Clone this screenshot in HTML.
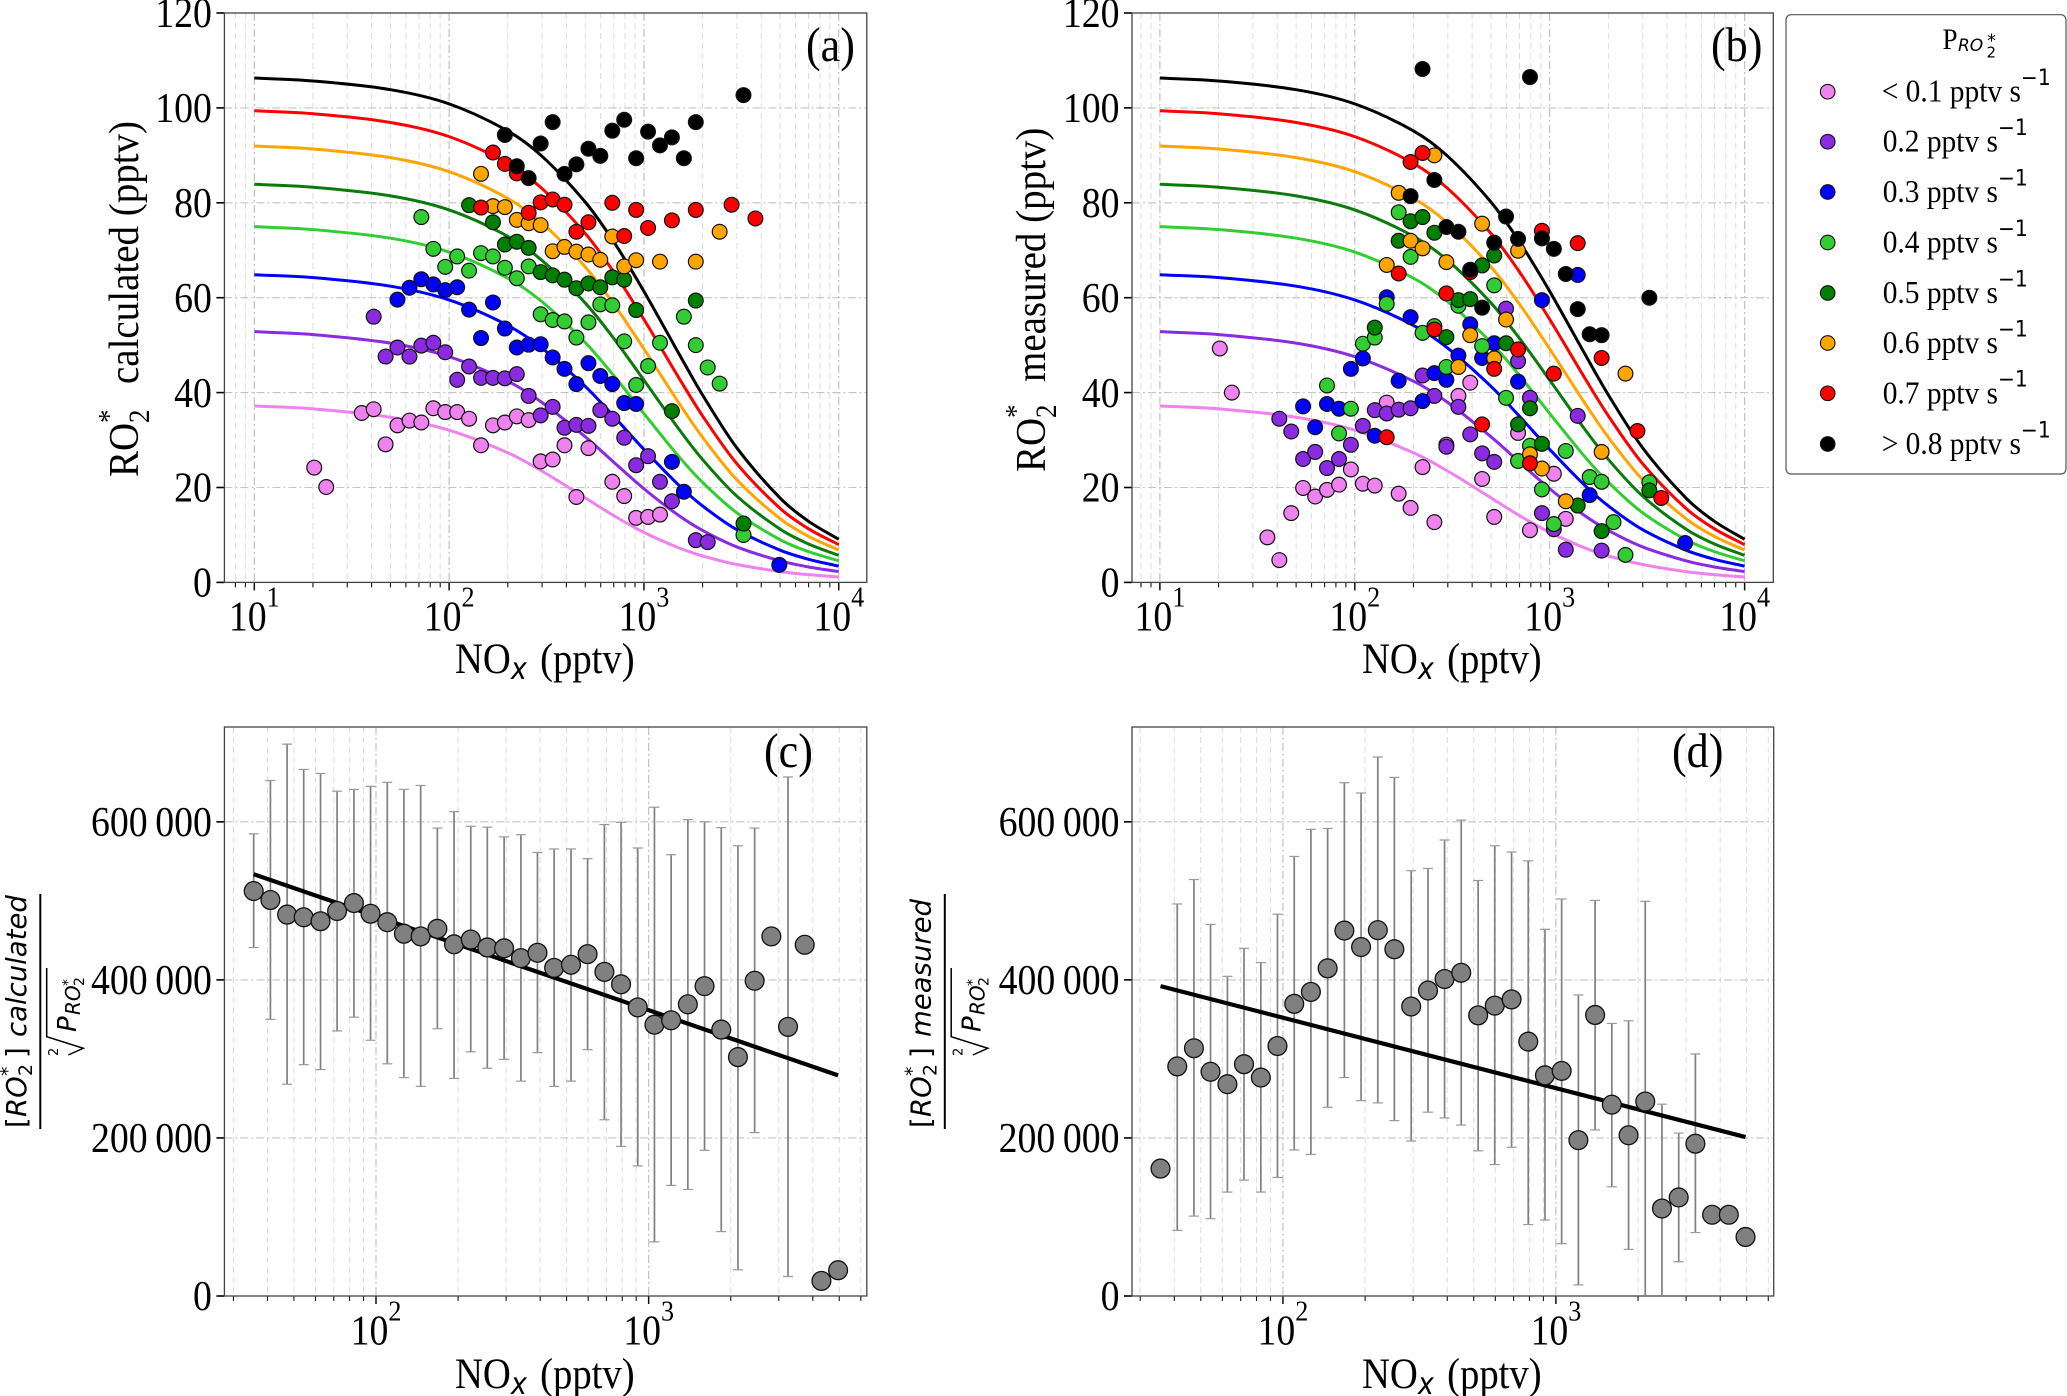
<!DOCTYPE html>
<html lang="en">
<head>
<meta charset="utf-8">
<title>RO2* versus NOx</title>
<style>
html,body{margin:0;padding:0;background:#fff}
svg{display:block}
text{font-family:"Liberation Serif",serif;fill:#000}
.mono{font-family:"DejaVu Sans",sans-serif;font-style:oblique}
.upright{font-family:"DejaVu Sans",sans-serif;font-style:normal}
</style>
</head>
<body>
<svg id="figure" xmlns="http://www.w3.org/2000/svg" width="2067" height="1396" viewBox="0 0 2067 1396">
<rect x="0" y="0" width="2067" height="1396" fill="#fff"/>
<defs>
<clipPath id="clip-a"><rect x="224.4" y="13" width="642.4" height="569.4"/></clipPath>
<clipPath id="clip-b"><rect x="1132" y="13" width="641.3" height="569.4"/></clipPath>
<clipPath id="clip-c"><rect x="224.4" y="727" width="642.4" height="569"/></clipPath>
<clipPath id="clip-d"><rect x="1132" y="727" width="641.7" height="569"/></clipPath>
</defs>
<g id="panel-a"></g>
<g id="panel-b"></g>
<g id="panel-c"></g>
<g id="panel-d"></g>

<text transform="translate(806,61) scale(.9,1)" font-size="49">(a)</text>
<text transform="translate(1711,61) scale(.9,1)" font-size="49">(b)</text>
<text transform="translate(764,767) scale(.9,1)" font-size="49">(c)</text>
<text transform="translate(1672,767) scale(.9,1)" font-size="49">(d)</text>

<g transform="translate(138,477) rotate(-90) scale(1,1.08)">
<text x="0" y="0" font-size="39">RO</text><text x="54" y="10" font-size="27">2</text><text x="54" y="-18" font-size="27">*</text><text x="93" y="0" font-size="39">calculated (pptv)</text>
</g>
<g transform="translate(1045,472) rotate(-90) scale(1,1.08)">
<text x="0" y="0" font-size="39">RO</text><text x="54" y="10" font-size="27">2</text><text x="54" y="-18" font-size="27">*</text><text x="90" y="0" font-size="39">measured (pptv)</text>
</g>

<text transform="translate(455,673) scale(.9,1)" font-size="43">NO<tspan class="mono" font-size="30" dy="6">x</tspan><tspan dy="-6" dx="4"> (pptv)</tspan></text>
<text transform="translate(1362,673) scale(.9,1)" font-size="43">NO<tspan class="mono" font-size="30" dy="6">x</tspan><tspan dy="-6" dx="4"> (pptv)</tspan></text>
<text transform="translate(455,1388) scale(.9,1)" font-size="43">NO<tspan class="mono" font-size="30" dy="6">x</tspan><tspan dy="-6" dx="4"> (pptv)</tspan></text>
<text transform="translate(1362,1388) scale(.9,1)" font-size="43">NO<tspan class="mono" font-size="30" dy="6">x</tspan><tspan dy="-6" dx="4"> (pptv)</tspan></text>

<g>
<g transform="translate(26,1128) rotate(-90)">
<text class="upright" x="0" y="0" font-size="27.5">[</text><text class="mono" x="11" y="0" font-size="27.5">RO</text><text class="upright" x="52" y="6" font-size="19">2</text><text class="upright" x="52" y="-12" font-size="19">*</text><text class="upright" x="70" y="0" font-size="27.5">]</text><text class="mono" x="91" y="0" font-size="27.5">calculated</text>
</g>
<line x1="40.3" y1="894" x2="40.3" y2="1129" stroke="#000" stroke-width="2"/>
<polyline points="46.7,968 46.7,1036.7 83.3,1048.3 68.3,1055" fill="none" stroke="#000" stroke-width="1.5"/>
<g transform="translate(58,1056) rotate(-90)"><text class="upright" x="0" y="0" font-size="13">2</text></g>
<g transform="translate(76,1032) rotate(-90)">
<text class="mono" x="0" y="0" font-size="26">P</text><text class="mono" x="17" y="4" font-size="20">RO</text><text class="upright" x="46" y="8" font-size="14">2</text><text class="upright" x="46" y="-3.5" font-size="14">*</text>
</g>
</g>
<g transform="translate(904.5,0)">
<g transform="translate(26,1128) rotate(-90)">
<text class="upright" x="0" y="0" font-size="27.5">[</text><text class="mono" x="11" y="0" font-size="27.5">RO</text><text class="upright" x="52" y="6" font-size="19">2</text><text class="upright" x="52" y="-12" font-size="19">*</text><text class="upright" x="70" y="0" font-size="27.5">]</text><text class="mono" x="91" y="0" font-size="27.5">measured</text>
</g>
<line x1="40.3" y1="894" x2="40.3" y2="1129" stroke="#000" stroke-width="2"/>
<polyline points="46.7,968 46.7,1036.7 83.3,1048.3 68.3,1055" fill="none" stroke="#000" stroke-width="1.5"/>
<g transform="translate(58,1056) rotate(-90)"><text class="upright" x="0" y="0" font-size="13">2</text></g>
<g transform="translate(76,1032) rotate(-90)">
<text class="mono" x="0" y="0" font-size="26">P</text><text class="mono" x="17" y="4" font-size="20">RO</text><text class="upright" x="46" y="8" font-size="14">2</text><text class="upright" x="46" y="-3.5" font-size="14">*</text>
</g>
</g>

<g>
<rect x="1786" y="14.7" width="280" height="459.3" rx="5" ry="5" fill="#fff" stroke="#555" stroke-width="1.2"/>
<g>
<text transform="translate(1942.5,49) scale(.9,1)" font-size="30">P</text>
<text class="mono" x="1958" y="51" font-size="17">RO</text>
<text class="upright" x="1986.5" y="57.3" font-size="15">2</text>
<text class="upright" x="1987" y="46.6" font-size="18">*</text>
</g>
<g><circle cx="1827.7" cy="91.7" r="7.3" fill="#ee82ee" stroke="#111" stroke-width="1.1"/><text transform="translate(1881.7,101.7) scale(.92,1)" font-size="32">&lt; 0.1 pptv s<tspan class="upright" font-size="22" dy="-16.7">−1</tspan></text></g>
<g><circle cx="1827.7" cy="141.7" r="7.3" fill="#8a2be2" stroke="#111" stroke-width="1.1"/><text transform="translate(1882.7,151.7) scale(.92,1)" font-size="32">0.2 pptv s<tspan class="upright" font-size="22" dy="-16.7">−1</tspan></text></g>
<g><circle cx="1827.7" cy="192" r="7.3" fill="#0000ff" stroke="#111" stroke-width="1.1"/><text transform="translate(1882.7,202) scale(.92,1)" font-size="32">0.3 pptv s<tspan class="upright" font-size="22" dy="-16.7">−1</tspan></text></g>
<g><circle cx="1827.7" cy="242.5" r="7.3" fill="#32cd32" stroke="#111" stroke-width="1.1"/><text transform="translate(1882.7,252.5) scale(.92,1)" font-size="32">0.4 pptv s<tspan class="upright" font-size="22" dy="-16.7">−1</tspan></text></g>
<g><circle cx="1827.7" cy="293" r="7.3" fill="#007f00" stroke="#111" stroke-width="1.1"/><text transform="translate(1882.7,303) scale(.92,1)" font-size="32">0.5 pptv s<tspan class="upright" font-size="22" dy="-16.7">−1</tspan></text></g>
<g><circle cx="1827.7" cy="343" r="7.3" fill="#ffa500" stroke="#111" stroke-width="1.1"/><text transform="translate(1882.7,353) scale(.92,1)" font-size="32">0.6 pptv s<tspan class="upright" font-size="22" dy="-16.7">−1</tspan></text></g>
<g><circle cx="1827.7" cy="393.3" r="7.3" fill="#ff0000" stroke="#111" stroke-width="1.1"/><text transform="translate(1882.7,403.3) scale(.92,1)" font-size="32">0.7 pptv s<tspan class="upright" font-size="22" dy="-16.7">−1</tspan></text></g>
<g><circle cx="1827.7" cy="444" r="7.3" fill="#000000" stroke="#111" stroke-width="1.1"/><text transform="translate(1881.7,454) scale(.92,1)" font-size="32">&gt; 0.8 pptv s<tspan class="upright" font-size="22" dy="-16.7">−1</tspan></text></g>
</g>
</svg>
<script>
/* ---------- tick labels ---------- */
var yTicksTop = [0, 20, 40, 60, 80, 100, 120];
var yTicksBottom = [0, 200000, 400000, 600000];
var xExponentsTop = [1, 2, 3, 4];
var xExponentsBottom = [2, 3];

/* ---------- fit curves, panels a and b: RO2* (pptv) at each NOx (pptv) ---------- */
var curveNox = [10, 20, 50, 100, 200, 300, 500, 700, 1000, 1500, 2000, 3000, 5000, 7000, 10000];
var curveViolet = [37.18, 36.57, 34.81, 32.07, 27.31, 23.45, 17.8, 14.07, 10.54, 7.33, 5.59, 3.77, 2.28, 1.63, 1.14];
var curvePurple = [52.84, 52.23, 50.43, 47.57, 42.4, 37.91, 30.68, 25.33, 19.74, 14.17, 10.95, 7.47, 4.54, 3.25, 2.28];
var curveBlue = [64.85, 64.24, 62.43, 59.52, 54.16, 49.36, 41.3, 35.0, 28.02, 20.6, 16.11, 11.1, 6.79, 4.87, 3.42];
var curveLime = [74.98, 74.36, 72.54, 69.61, 64.12, 59.14, 50.55, 43.59, 35.59, 26.68, 21.08, 14.66, 9.01, 6.48, 4.56];
var curveGreen = [83.9, 83.28, 81.46, 78.5, 72.94, 67.83, 58.87, 51.42, 42.62, 32.48, 25.89, 18.17, 11.23, 8.09, 5.69];
var curveOrange = [91.97, 91.35, 89.52, 86.55, 80.93, 75.72, 66.47, 58.65, 49.21, 38.02, 30.56, 21.62, 13.43, 9.69, 6.82];
var curveRed = [99.39, 98.77, 96.93, 93.95, 88.29, 83.0, 73.53, 65.41, 55.43, 43.33, 35.08, 25.0, 15.6, 11.29, 7.95];
var curveBlack = [106.29, 105.67, 103.84, 100.85, 95.14, 89.8, 80.14, 71.77, 61.34, 48.45, 39.49, 28.34, 17.78, 12.87, 9.08];

/* ---------- panel a: [NOx, RO2* calculated] ---------- */
var calcViolet = [[20.3,24.2],[23.4,20.1],[35.6,35.7],[41,36.5],[47.2,29.1],[54.3,33.1],[62.6,34.1],[72,33.7],[83,36.7],[95.5,35.9],[110,35.9],[126.6,34.5],[145.8,28.9],[167.9,33.1],[193.3,33.7],[222.6,35],[256,34.2],[295,25.5],[340,25.9],[391,28.9],[450,18],[519,28.3],[688,21.2],[792,18.2],[912,13.6],[1050,13.8],[1209,14.3]];
var calcPurple = [[41,56],[47.2,47.6],[54.3,49.5],[62.6,47.6],[72,49.9],[83,50.5],[95.5,48.5],[110,42.7],[126.6,45.5],[145.8,43.1],[167.9,43.1],[193.3,43],[222.6,43.9],[256,39.3],[295,35.2],[340,37],[391,32.6],[450,33.2],[519,33],[597,36.3],[688,34.5],[792,30.5],[912,24.7],[1050,26.6],[1209,21.2],[1392,17.1],[1846,8.9],[2125,8.5]];
var calcBlue = [[54.3,59.6],[62.6,62.1],[72,63.9],[83,62.8],[95.5,61.6],[110,62.2],[126.6,57.5],[145.8,51.5],[167.9,59],[193.3,53.5],[222.6,49.5],[256,50.1],[295,50.2],[340,47.4],[391,45],[450,41.8],[519,46.2],[597,43.5],[688,41.8],[792,37.8],[912,37.6],[1392,25.4],[1603,19.1],[4952,3.7]];
var calcLime = [[72,77],[83,70.3],[95.5,66.5],[110,68.7],[126.6,65.7],[145.8,69.4],[167.9,68.7],[193.3,66.3],[222.6,64.1],[256,66.6],[295,56.5],[340,55.3],[391,55],[450,51.6],[519,54.8],[597,58.6],[688,58.4],[792,50.8],[912,41.6],[1050,45.6],[1209,50.5],[1603,56],[1846,50],[2125,45.3],[2447,41.9],[3244,10]];
var calcGreen = [[126.6,79.5],[167.9,75.9],[193.3,71.2],[222.6,71.8],[256,70.5],[295,65.4],[340,64.7],[391,63.8],[450,62],[519,63],[597,62.2],[688,64.3],[792,63.8],[912,57.4],[1392,36.1],[1846,59.4],[3244,12.4]];
var calcOrange = [[145.8,86.1],[167.9,79.3],[193.3,79.1],[222.6,76.4],[256,75.7],[295,75.3],[340,69.8],[391,70.7],[450,69.7],[519,69.1],[597,68],[688,72.9],[792,66.6],[912,67.9],[1209,67.6],[1846,67.6],[2447,73.9]];
var calcRed = [[167.9,90.6],[193.3,88.2],[222.6,86.2],[145.8,79],[256,77.9],[295,80.1],[340,80.7],[391,79.6],[450,73.9],[519,75.9],[688,80],[792,73],[912,78.5],[1050,74.7],[1392,76.3],[1846,78.5],[2818,79.6],[3735,76.7]];
var calcBlack = [[193.3,94.3],[222.6,87.7],[256,85.2],[295,92.5],[340,97],[391,86.1],[450,88.1],[519,91.4],[597,89.9],[688,95.2],[792,97.5],[912,89.4],[1050,95],[1209,92.1],[1392,93.8],[1603,89.4],[1846,97],[3244,102.7]];

/* ---------- panel b: [NOx, RO2* measured] ---------- */
var measViolet = [[20.3,49.3],[23.4,40],[35.6,9.5],[41,4.7],[47.2,14.6],[54.3,19.9],[62.6,18.1],[72,19.5],[83,20.6],[95.5,23.8],[110,20.8],[126.6,20.4],[145.8,37.9],[167.9,18.7],[193.3,15.7],[222.6,24.3],[256,12.7],[295,29],[340,39.3],[391,42.1],[450,21.8],[519,13.8],[688,31.5],[792,11],[1050,22.9],[1209,13.4]];
var measPurple = [[41,34.5],[47.2,31.8],[54.3,26],[62.6,27.5],[72,24.1],[83,26],[95.5,29],[110,33],[126.6,36.3],[145.8,35.6],[167.9,36.4],[193.3,36.7],[222.6,43.6],[256,39.3],[295,28.6],[340,37],[391,31.2],[450,27.2],[519,25.4],[597,57.7],[688,46.6],[792,38.9],[912,14.6],[1050,11.2],[1209,6.9],[1392,35.1],[1846,6.7]];
var measBlue = [[54.3,37.1],[62.6,32.7],[72,37.6],[83,36.6],[95.5,45],[110,47.2],[126.6,30.9],[145.8,60.1],[167.9,42.5],[193.3,55.9],[222.6,38.2],[256,44.1],[295,42.7],[340,47.8],[391,54.4],[450,47.3],[519,50.4],[688,42.3],[912,59.5],[1392,64.8],[1603,18.4],[4952,8.3]];
var measLime = [[72,41.5],[83,31.4],[95.5,36.6],[110,50.3],[126.6,51.6],[145.8,58.7],[167.9,78],[193.3,68.6],[222.6,52.6],[256,54],[295,45.4],[340,58.3],[450,49.8],[519,62.6],[597,38.9],[688,25.6],[792,28.8],[912,19.6],[1050,12.3],[1209,27.7],[1603,22.2],[1846,21.2],[2125,12.7],[2447,5.8],[3244,21.1]];
var measGreen = [[126.6,53.7],[167.9,72],[193.3,76.1],[222.6,77],[256,73.7],[295,51.7],[340,59.5],[391,59.7],[450,66.8],[519,68.9],[597,50.4],[688,33.3],[792,36.7],[912,29.2],[1392,16.2],[1846,10.8],[3244,19.4]];
var measOrange = [[145.8,66.9],[167.9,82.1],[193.3,72],[222.6,70.4],[256,90],[295,67.5],[340,45.4],[391,52.1],[450,75.6],[519,47.2],[597,55.4],[688,69.9],[792,27],[912,24],[1209,17.1],[1846,27.5],[2447,44]];
var measRed = [[145.8,30.6],[167.9,65.1],[193.3,88.6],[222.6,90.5],[256,53.3],[295,60.9],[391,65.4],[450,33.3],[519,45],[688,49.1],[792,25.1],[912,74.1],[1050,44],[1392,71.5],[1846,47.3],[2818,31.9],[3735,17.8]];
var measBlack = [[193.3,81.4],[222.6,108.2],[256,84.8],[295,74.9],[340,73.9],[391,65.9],[450,57.9],[519,71.6],[597,77.1],[688,72.4],[792,106.5],[912,72.5],[1050,70.3],[1209,65],[1392,57.6],[1603,52.3],[1846,52.1],[3244,60]];

/* ---------- panels c and d: binned ratio values, in thousands ---------- */
var noxBins = [35.6,41,47.2,54.3,62.6,72,83,95.5,110,126.6,145.8,167.9,193.3,222.6,256,295,340,391,450,519,597,688,792,912,1050,1209,1392,1603,1846,2125,2447,2818,3244,3735,4301,4952];
var ratioCalc = [512.4,501.1,482.6,479.2,474.2,487.1,497.2,483.7,473,458.4,455,464.6,445,451.1,441,439.9,427.5,434.3,415.2,419.1,432.6,410.1,394.4,365.2,343.3,348.9,369.1,392.1,337.1,302.3,398.9,455,340.5,444.4,19.1,32.6];
var upperCalc = [584.8,652.3,698.3,666.3,661.2,638.8,641,645,650,641,646,592.1,612.9,594.4,593.3,580.9,583.7,561.2,565.7,565.7,553.4,596.6,599.4,566.9,618.5,558.4,602.8,600,592.7,569.7,592.1,null,656.7,null,null,null];
var lowerCalc = [441,350,268,292.7,286.5,335.4,352.8,323.6,293.8,276.4,265.2,338.2,275.3,309,288.2,299.4,271.9,307.9,265.2,271.9,311.8,223,189.3,164.6,68.5,139.9,134.8,184.3,81.5,33.1,206.7,null,24.7,null,null,null];
var fitCalc = [533.7, 279.2];
var ratioMeas = [161.2,290.5,313.5,283.7,268,293.3,276.4,316.3,369.7,384.8,414.6,462.4,441.6,462.9,438.8,366.3,386.5,401.1,409,355.1,367.4,375.3,321.9,279.2,284.8,197.2,355.6,242.1,203.4,246.1,110.7,124.7,192.7,102.8,102.8,74.7];
var upperMeas = [null,496.1,527,470.2,404.5,439.9,421.9,483.1,556.2,590.5,591.6,649.5,636.5,682,656.2,538.2,541,577,602.2,525.8,569.7,561.8,550.6,464,502.3,380.9,500.6,344.9,348.3,499.4,242.7,206.2,306.2,null,null,null];
var lowerMeas = [null,83.1,101.1,97.8,131.5,146.6,131.5,150,184.8,179.2,238.8,276.4,247.2,244.4,221.9,196.1,232.6,225.3,216.3,183.7,166.3,188.2,90.4,96.1,66.3,14,210.1,138.2,59,-60,-20,43.3,80.3,null,null,null];
var fitMeas = [392.1, 201.1];

/* ---------- drawing ---------- */
var NS = 'http://www.w3.org/2000/svg';
var seriesColors = ['#ee82ee', '#8a2be2', '#0000ff', '#32cd32', '#007f00', '#ffa500', '#ff0000', '#000000'];
var seriesKeys = ['lt-0.1', '0.2', '0.3', '0.4', '0.5', '0.6', '0.7', 'gt-0.8'];

function mk(tag, parent, attrs) {
  var el = document.createElementNS(NS, tag);
  for (var k in attrs) el.setAttribute(k, attrs[k]);
  parent.appendChild(el);
  return el;
}
function xAxisFn(box) {
  return function (v) { return box.L + (Math.log10(v) - box.logMin) / (box.logMax - box.logMin) * (box.R - box.L); };
}
function yAxisFn(box) {
  return function (v) { return box.B - v / box.yMax * (box.B - box.T); };
}
function fmtThousands(v) {
  var s = String(v);
  return s.length > 3 ? s.slice(0, s.length - 3) + '\u2009' + s.slice(s.length - 3) : s;
}
function drawFrame(box, yTicks, exps, baseY) {
  var root = document.getElementById('panel-' + box.id);
  var sx = xAxisFn(box), sy = yAxisFn(box);
  var grid = mk('g', root, {});
  
  
  var axes = mk('g', root, {});
  
  
  for (var d = Math.floor(box.logMin); d <= Math.ceil(box.logMax); d++) {
    for (var m = 1; m <= 9; m++) {
      var val = m * Math.pow(10, d);
      var lg = Math.log10(val);
      if (lg < box.logMin || lg > box.logMax) continue;
      var px = sx(val);
      mk('line', grid, m === 1
        ? {x1: px, x2: px, y1: box.T, y2: box.B, stroke: '#bdbdbd', 'stroke-width': 1.1, 'stroke-dasharray': '8 3 2 3'}
        : {x1: px, x2: px, y1: box.T, y2: box.B, stroke: '#dcdcdc', 'stroke-width': 1, 'stroke-dasharray': '6 4'});
      mk('line', axes, {x1: px, x2: px, y1: box.B, y2: box.B + (m === 1 ? 8 : 5), stroke: '#111', 'stroke-width': m === 1 ? 1.5 : 1.1});
    }
  }
  yTicks.forEach(function (t) {
    var py = sy(box.yDiv ? t / box.yDiv : t);
    if (t !== 0 && t !== box.yMax) mk('line', grid, {x1: box.L, x2: box.R, y1: py, y2: py, stroke: '#c4c4c4', 'stroke-width': 1.1, 'stroke-dasharray': '8 3 2 3'});
    mk('line', axes, {x1: box.L - 8, x2: box.L, y1: py, y2: py, stroke: '#000', 'stroke-width': 1.6});
    var lab = mk('text', axes, {transform: 'translate(' + (box.L - 12.5) + ',' + (py + 14.2) + ') scale(.9,1)', 'font-size': 42, 'text-anchor': 'end'});
    lab.textContent = fmtThousands(t);
    
    
  });
  exps.forEach(function (e) {
    var lab = mk('text', axes, {transform: 'translate(' + sx(Math.pow(10, e)) + ',' + baseY + ') scale(.9,1)', 'font-size': 42, 'text-anchor': 'middle'});
    lab.appendChild(document.createTextNode('10'));
    var sup = mk('tspan', lab, {'font-size': 29, dy: -24});
    sup.textContent = String(e);
    
    
  });
  var frame = mk('rect', root, {x: box.L, y: box.T, width: box.R - box.L, height: box.B - box.T, fill: 'none', stroke: '#444', 'stroke-width': 1.3});
  
  
  var plot = mk('g', root, {'clip-path': 'url(#clip-' + box.id + ')'});
  
  
  return plot;
}
function smoothPath(xs, ys) {
  var n = xs.length, ms = [], d = 'M' + xs[0].toFixed(2) + ' ' + ys[0].toFixed(2);
  for (var i = 0; i < n; i++) {
    var a = Math.max(0, i - 1), b = Math.min(n - 1, i + 1);
    ms.push((ys[b] - ys[a]) / (xs[b] - xs[a]));
  }
  for (var j = 0; j < n - 1; j++) {
    var h = (xs[j + 1] - xs[j]) / 3;
    d += 'C' + (xs[j] + h).toFixed(2) + ' ' + (ys[j] + ms[j] * h).toFixed(2) + ' ' +
         (xs[j + 1] - h).toFixed(2) + ' ' + (ys[j + 1] - ms[j + 1] * h).toFixed(2) + ' ' +
         xs[j + 1].toFixed(2) + ' ' + ys[j + 1].toFixed(2);
  }
  return d;
}
function drawScatterPanel(box, curves, scatters) {
  var plot = drawFrame(box, yTicksTop, xExponentsTop, 630.5);
  var sx = xAxisFn(box), sy = yAxisFn(box);
  var layerLines = mk('g', plot, {});
  curves.forEach(function (vals, idx) {
    var p = mk('path', layerLines, {
      d: smoothPath(curveNox.map(sx), vals.map(sy)),
      fill: 'none', stroke: idx === 4 ? '#0a7a0a' : seriesColors[idx], 'stroke-width': 3
    });
    
    
  });
  scatters.forEach(function (pts, idx) {
    var g = mk('g', plot, {});
    
    
    pts.forEach(function (pt) {
      var c = mk('circle', g, {cx: sx(pt[0]), cy: sy(pt[1]), r: 7.4, fill: seriesColors[idx], stroke: '#111', 'stroke-width': 1.2});
      
      
    });
  });
}
function drawRatioPanel(box, values, upper, lower, fit) {
  var plot = drawFrame(box, yTicksBottom, xExponentsBottom, 1344.5);
  var sx = xAxisFn(box), sy = yAxisFn(box);
  var bars = mk('g', plot, {});
  
  
  noxBins.forEach(function (x, i) {
    if (upper[i] === null || lower[i] === null) return;
    var px = sx(x), top = sy(upper[i]), bot = sy(lower[i]);
    var stem = mk('line', bars, {x1: px, x2: px, y1: top, y2: bot, stroke: '#808080', 'stroke-width': 1.7});
    
    
    mk('line', bars, {x1: px - 5, x2: px + 5, y1: top, y2: top, stroke: '#999', 'stroke-width': 1.2});
    mk('line', bars, {x1: px - 5, x2: px + 5, y1: bot, y2: bot, stroke: '#999', 'stroke-width': 1.2});
  });
  var line = mk('line', plot, {
    x1: sx(noxBins[0]), y1: sy(fit[0]),
    x2: sx(noxBins[noxBins.length - 1]), y2: sy(fit[1]),
    stroke: '#000', 'stroke-width': 4.2
  });
  
  
  noxBins.forEach(function (x, i) {
    var c = mk('circle', plot, {cx: sx(x), cy: sy(values[i]), r: 9.4, fill: '#808080', stroke: '#111', 'stroke-width': 1.3});
    
    
  });
}

var allCurves = [curveViolet, curvePurple, curveBlue, curveLime, curveGreen, curveOrange, curveRed, curveBlack];
drawScatterPanel({id: 'a', L: 224.4, R: 866.8, T: 13, B: 582.4, logMin: 0.8465, logMax: 4.144, yMax: 120}, allCurves,
  [calcViolet, calcPurple, calcBlue, calcLime, calcGreen, calcOrange, calcRed, calcBlack]);
drawScatterPanel({id: 'b', L: 1132, R: 1773.3, T: 13, B: 582.4, logMin: 0.857, logMax: 4.147, yMax: 120}, allCurves,
  [measViolet, measPurple, measBlue, measLime, measGreen, measOrange, measRed, measBlack]);
drawRatioPanel({id: 'c', L: 224.4, R: 866.8, T: 727, B: 1296, logMin: 1.444, logMax: 3.8, yMax: 720, yDiv: 1000}, ratioCalc, upperCalc, lowerCalc, fitCalc);
drawRatioPanel({id: 'd', L: 1132, R: 1773.7, T: 727, B: 1296, logMin: 1.447, logMax: 3.798, yMax: 720, yDiv: 1000}, ratioMeas, upperMeas, lowerMeas, fitMeas);
</script>
</body>
</html>
